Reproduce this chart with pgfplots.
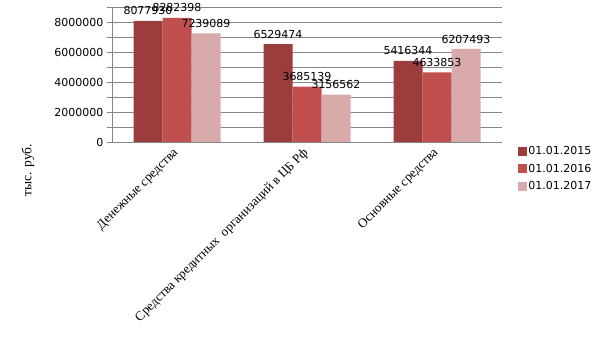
\documentclass[border=0pt]{standalone}
\usepackage{fontspec}
\setmainfont{Liberation Serif}
\newfontfamily\numfont{DejaVu Sans}
\usepackage{pgfplots}
\usepackage{pgfplotstable}
\pgfplotsset{compat=1.18}
\definecolor{cA}{RGB}{155,61,61}
\definecolor{cB}{RGB}{192,80,77}
\definecolor{cC}{RGB}{217,170,170}
\definecolor{gridc}{RGB}{134,134,134}

\pgfplotstableread{
x y label
0 8077930 8077930
1 6529474 6529474
2 5416344 5416344
}\tA
\pgfplotstableread{
x y label
0 8282398 8282398
1 3685139 3685139
2 4633853 4633853
}\tB
\pgfplotstableread{
x y label
0 7239089 7239089
1 3156562 3156562
2 6207493 6207493
}\tC

\begin{document}
\begin{tikzpicture}[x=1pt,y=1pt]
\path[use as bounding box] (0,0) rectangle (605,340);
\begin{axis}[
  at={(112pt,198pt)}, anchor=south west,
  width=390pt, height=135pt, scale only axis,
  ybar=0pt, bar width=29pt,
  xmin=-0.5, xmax=2.5, ymin=0, ymax=9000000,
  xtick={0,1,2},
  xticklabels={Денежные средства, Средства кредитных\ \ организаций в ЦБ Рф, Основные средства},
  xticklabel style={rotate=45, anchor=east, yshift=-2.5pt, font=\fontsize{13}{15}\selectfont},
  ytick={0,2000000,4000000,6000000,8000000},
  minor ytick={1000000,3000000,5000000,7000000,9000000},
  ymajorgrids, yminorgrids,
  major grid style={gridc, line width=0.8pt},
  minor grid style={gridc, line width=0.8pt},
  axis x line*=bottom, axis y line*=left,
  axis line style={gridc, line width=0.8pt},
  ytick style={gridc, line width=0.8pt},
  minor tick style={gridc, line width=0.8pt},
  xtick style={draw=none},
  tick align=outside, major tick length=5pt, minor tick length=5pt,
  scaled y ticks=false,
  yticklabel style={/pgf/number format/fixed, /pgf/number format/1000 sep={}, font=\numfont\fontsize{11}{13}\selectfont},
  /pgf/number format/assume math mode=true,
  nodes near coords,
  point meta=explicit symbolic,
  nodes near coords style={font=\numfont\fontsize{11}{13}\selectfont, text=black, inner sep=2pt, yshift=3.5pt},
  legend image code/.code={\fill[#1] (0pt,-4.5pt) rectangle (9pt,4.5pt);},
  legend style={at={(1.04,-0.02)}, anchor=north west, draw=none, fill=none,
    font=\numfont\fontsize{11}{13}\selectfont, row sep=5pt, inner sep=0pt,
    nodes={inner sep=1.5pt}},
  legend cell align=left,
]
\addplot[fill=cA, draw=none] table[x=x, y=y, meta=label] {\tA};
\addplot[fill=cB, draw=none] table[x=x, y=y, meta=label] {\tB};
\addplot[fill=cC, draw=none] table[x=x, y=y, meta=label] {\tC};
\legend{01.01.2015, 01.01.2016, 01.01.2017}
\end{axis}
\node[rotate=90, font=\fontsize{13.5}{15}\selectfont] at (28,170) {тыс. руб.};
\end{tikzpicture}
\end{document}
